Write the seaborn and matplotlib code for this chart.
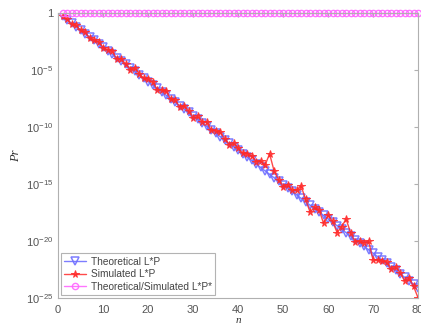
import numpy as np
import pandas as pd
import matplotlib
matplotlib.use("Agg")
import matplotlib.pyplot as plt
import seaborn as sns

n = list(range(1, 81))
# log10 of theoretical L*P
theo_log = [-0.30, -0.60, -0.90, -1.20, -1.51, -1.81, -2.11, -2.41, -2.71, -3.01,
            -3.31, -3.61, -3.91, -4.21, -4.52, -4.82, -5.12, -5.42, -5.72, -6.02,
            -6.32, -6.62, -6.92, -7.22, -7.53, -7.83, -8.13, -8.43, -8.73, -9.03,
            -9.33, -9.63, -9.93, -10.24, -10.54, -10.84, -11.14, -11.44, -11.74, -12.04,
            -12.34, -12.64, -12.94, -13.25, -13.55, -13.85, -14.15, -14.45, -14.75, -15.05,
            -15.35, -15.65, -15.95, -16.26, -16.56, -16.86, -17.16, -17.46, -17.76, -18.06,
            -18.36, -18.66, -18.96, -19.27, -19.57, -19.87, -20.17, -20.47, -20.77, -21.07,
            -21.37, -21.67, -21.97, -22.28, -22.58, -22.88, -23.18, -23.48, -23.78, -24.08]
# log10 of simulated L*P
sim_log = [-0.30, -0.55, -1.00, -1.10, -1.51, -1.66, -2.21, -2.36, -2.51, -3.06,
           -3.21, -3.36, -4.01, -4.01, -4.47, -4.97, -4.82, -5.32, -5.72, -5.82,
           -6.02, -6.72, -6.72, -6.87, -7.53, -7.63, -8.23, -8.13, -8.58, -9.23,
           -9.08, -9.53, -9.58, -10.29, -10.34, -10.44, -11.04, -11.54, -11.44, -11.84,
           -12.29, -12.34, -12.54, -13.05, -12.95, -13.35, -12.35, -13.85, -14.65, -15.25,
           -15.05, -15.55, -15.55, -15.16, -16.36, -17.46, -17.06, -17.26, -18.46, -17.76,
           -18.26, -19.26, -18.76, -18.07, -19.27, -20.07, -19.97, -20.17, -19.97, -21.67,
           -21.67, -21.77, -21.87, -22.48, -22.28, -22.78, -23.48, -23.28, -23.98, -24.98]
ratio = [1.0] * 80

df = pd.DataFrame({
    "n": n,
    "theo": [10.0 ** v for v in theo_log],
    "sim": [10.0 ** v for v in sim_log],
    "ratio": ratio,
})

sns.set_style("white")
plt.rcParams["font.family"] = ["Liberation Sans", "DejaVu Sans"]
plt.rcParams["mathtext.fontset"] = "custom"
plt.rcParams["mathtext.rm"] = "Liberation Sans"
plt.rcParams["mathtext.it"] = "Liberation Sans:italic"
plt.rcParams["mathtext.default"] = "rm"

fig = plt.figure(figsize=(4.21, 3.32), dpi=100)
ax = fig.add_axes([0.138, 0.1024, 0.855, 0.8586])

sns.lineplot(data=df, x="n", y="theo", ax=ax, color="#6f6fff", marker="v",
             markersize=5.5, markerfacecolor="none", markeredgecolor="#6f6fff",
             markeredgewidth=1.1, linewidth=1.0, label="Theoretical L*P", alpha=0.9)
sns.lineplot(data=df, x="n", y="sim", ax=ax, color="#ff2a2a", marker="*",
             markersize=5.5, markeredgecolor="#ff2a2a", markerfacecolor="#ff2a2a",
             linewidth=1.0, label="Simulated L*P", alpha=0.85)
sns.lineplot(data=df, x="n", y="ratio", ax=ax, color="#ff66ff", marker="o",
             markersize=4.5, markerfacecolor="none", markeredgecolor="#ff66ff",
             markeredgewidth=1.0, linewidth=1.0, label="Theoretical/Simulated L*P*",
             clip_on=False, alpha=0.9)

ax.set_yscale("log")
ax.set_xlim(0, 80)
ax.set_ylim(1e-25, 1)
yt = [1e-25, 1e-20, 1e-15, 1e-10, 1e-5, 1]
ax.set_yticks(yt)
ax.set_yticklabels([r"$10^{-25}$", r"$10^{-20}$", r"$10^{-15}$", r"$10^{-10}$", r"$10^{-5}$", "1"])
ax.minorticks_off()
ax.set_xticks(list(range(0, 81, 10)))

for s in ax.spines.values():
    s.set_color("#b0b0b0")
    s.set_linewidth(0.8)
ax.tick_params(direction="in", length=3, colors="#b0b0b0", labelcolor="#555555",
               labelsize=8, right=True, top=True, labelright=False, labeltop=False)
ax.tick_params(axis="x", pad=5)

ax.set_xlabel("n", fontfamily="Liberation Serif", fontstyle="italic", fontsize=8,
              color="#333333", labelpad=0.5)
ax.set_ylabel("Pr", fontfamily="Liberation Serif", fontstyle="italic", fontsize=9,
              color="#333333", labelpad=3)

leg = ax.legend(loc="lower left", fontsize=7.3, frameon=True, fancybox=False,
                handlelength=2.2, handletextpad=0.4, borderpad=0.35,
                labelspacing=0.25, borderaxespad=0.25)
leg.get_frame().set_edgecolor("#a0a0a0")
leg.get_frame().set_linewidth(0.8)
for t in leg.get_texts():
    t.set_color("#444444")

fig.savefig("out.png", dpi=100)
